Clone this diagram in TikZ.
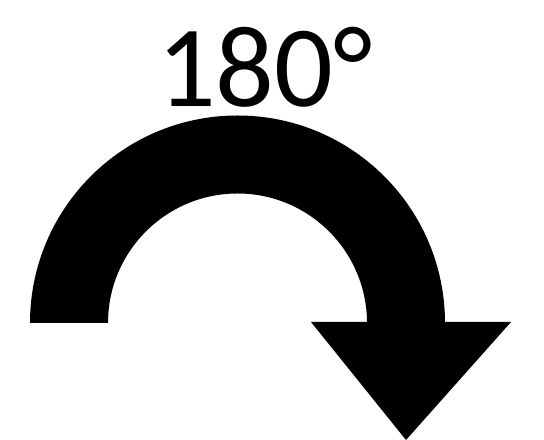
\documentclass[tikz,border=0pt]{standalone}
\usepackage{fontspec}
\setmainfont{Carlito}
\begin{document}
\begin{tikzpicture}[
x=1bp, y=1bp,
band/.style={fill=black, draw=none},
head/.style={fill=black, draw=none},
angletext/.style={anchor=base, inner sep=0pt, font=\fontsize{116bp}{120bp}\selectfont}
]
\useasboundingbox (0,0) rectangle (544,440);
\coordinate (centre) at (237.5,117);
\node[angletext] (angle) at (265,333) {180°};
% curved band
\fill[band] (30,117) arc[start angle=180, end angle=0, radius=207.5]
  -- (367,117) arc[start angle=0, end angle=180, radius=129.5] -- cycle;
% arrow head
\fill[head] (311,118) -- (511,118) -- (406,0) -- cycle;
\end{tikzpicture}
\end{document}
